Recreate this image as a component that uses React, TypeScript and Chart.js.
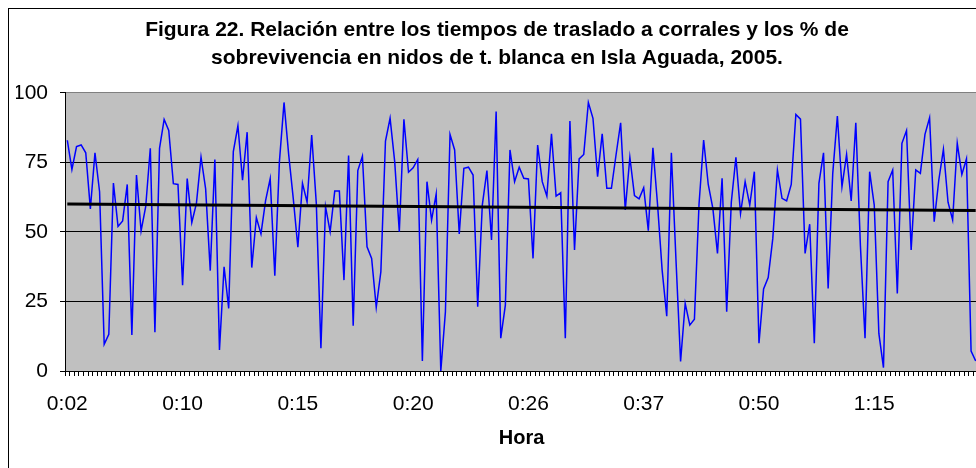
import { useEffect, useRef } from 'react';
import { Chart, registerables } from 'chart.js';

Chart.register(...registerables);

const FONT = '"Liberation Sans", Arial, sans-serif';

const titleLines = [
  'Figura 22. Relación entre los tiempos de traslado a corrales y los % de',
  'sobrevivencia en nidos de t. blanca en Isla Aguada, 2005.',
];
const xAxisTitle = 'Hora';

// Tick labels shown on the category axis and the category index where each sits
const hourLabels = ['0:02', '0:10', '0:15', '0:20', '0:26', '0:37', '0:50', '1:15'];
const hourLabelIndex = [0, 25, 50, 75, 100, 125, 150, 175];

const yTicks = [0, 25, 50, 75, 100];

// % de sobrevivencia por nido (orden de las categorías)
const survival = [
  83, 72.5, 80.7, 81.3, 78.5, 58.3, 78.5, 64.5, 9.6, 13.2, 67.6, 52, 54, 67.1, 13, 70.5, 50.4, 59.1, 80.1, 13.9, 80.1, 90.5, 86.5, 67.4,
  67.1, 30.9, 69.2, 53.4, 60.3, 76.9, 65.5, 36.1, 76.1, 7.6, 37.5, 22.5, 78.9, 88.2, 68.6, 85.9, 37.2, 55.2, 49.3, 61.3, 69.2, 34.3, 75.3, 96.6,
  78, 62.1, 44.5, 67.5, 60.7, 84.9, 60.3, 8.2, 59.1, 50.1, 64.7, 64.7, 32.7, 77.5, 16.3, 72.1, 77.3, 44.7, 40.5, 22.9, 35.7, 82.7, 90.9, 75.3, 50.1,
  90.5, 71.5, 73.1, 76.1, 3.6, 68.1, 54.3, 63.7, 0, 21.3, 85.1, 79.5, 49.3, 72.9, 73.3, 70.5, 23.1, 59.7, 72.1, 47.1, 93.3, 11.8, 23.7, 79.5, 68.1,
  73.3, 69.3, 69.1, 40.5, 81.3, 68.1, 62.9, 85.3, 62.9, 64.1, 11.8, 89.9, 43.5, 76.3, 77.9, 96.6, 90.9, 69.9, 85.3, 65.7, 65.7, 77.7, 89.3, 57.9, 76.9,
  63.1, 61.9, 65.9, 50.5, 80.3, 60, 36.3, 19.7, 78.5, 40, 3.4, 24.3, 16.5, 18.6, 60, 83.1, 67.1, 58.5, 42.3, 69.3, 21.3, 60.7, 76.9, 56.7, 68.1,
  59.7, 71.7, 10, 29.5, 33.6, 47.7, 72.3, 62.1, 61.2, 67.1, 92.3, 90.6, 42.3, 52.8, 10, 67.5, 78.5, 29.7, 71.1, 91.7, 66.3, 77.9, 61.2, 89.3, 45,
  11.8, 71.7, 59.7, 13.5, 1.2, 68.1, 72.3, 27.9, 81.9, 86.5, 43.5, 72.3, 71.1, 85.1, 91.1, 53.7, 68.7, 79.7, 60.7, 54.3, 81.9, 70.7, 76.3, 7.2, 3.6,
];

function linearFit(vals: number[]) {
  const n = vals.length;
  let sx = 0, sy = 0, sxx = 0, sxy = 0;
  vals.forEach((y, x) => { sx += x; sy += y; sxx += x * x; sxy += x * y; });
  const b = (n * sxy - sx * sy) / (n * sxx - sx * sx);
  const a = (sy - b * sx) / n;
  return { a, b };
}

const plotBg = {
  id: 'plotBg',
  beforeDraw(chart: any) {
    const { ctx, chartArea: a } = chart;
    ctx.save();
    ctx.fillStyle = '#C0C0C0';
    ctx.fillRect(a.left, a.top, a.right - a.left, a.bottom - a.top);
    ctx.restore();
  },
};

export default function App() {
  const ref = useRef<HTMLCanvasElement>(null);

  useEffect(() => {
    const n = survival.length;
    const fit = linearFit(survival);
    const labelMap = new Map<number, string>(hourLabelIndex.map((i, k) => [i, hourLabels[k]]));

    const chart = new Chart(ref.current as HTMLCanvasElement, {
      type: 'line',
      data: {
        datasets: [
          {
            data: survival.map((y, x) => ({ x, y })),
            borderColor: '#0000FF',
            borderWidth: 1.5,
            pointRadius: 0,
            tension: 0,
            order: 2,
          },
          {
            data: [
              { x: 0, y: fit.a },
              { x: n - 1, y: fit.a + fit.b * (n - 1) },
            ],
            borderColor: '#000000',
            borderWidth: 3,
            pointRadius: 0,
            order: 1,
          },
        ],
      },
      plugins: [plotBg],
      options: {
        responsive: false,
        animation: false,
        layout: { padding: { left: 16, right: 2, top: 0, bottom: 0 } },
        plugins: {
          legend: { display: false },
          tooltip: { enabled: false },
          title: {
            display: true,
            text: titleLines,
            color: '#000',
            font: { family: FONT, size: 21, weight: 'bold', lineHeight: 1.333 },
            padding: { top: 16, bottom: 21 },
          },
        },
        scales: {
          x: {
            type: 'linear',
            min: -0.5,
            max: n - 0.5,
            afterBuildTicks: (s: any) => {
              const t: { value: number }[] = [];
              for (let i = 0; i <= n; i++) t.push({ value: i - 0.5 });
              hourLabelIndex.forEach((i) => t.push({ value: i }));
              s.ticks = t;
            },
            afterFit: (s: any) => { s.height = 97; },
            ticks: {
              autoSkip: false,
              maxRotation: 0,
              minRotation: 0,
              padding: 16,
              color: '#000',
              font: { family: FONT, size: 21 },
              callback: (v: any) => labelMap.get(Number(v)) ?? '',
            },
            grid: {
              drawOnChartArea: false,
              drawTicks: true,
              tickLength: 5,
              lineWidth: 1,
              tickColor: (c: any) => (c.tick && labelMap.has(c.tick.value) ? 'rgba(0,0,0,0)' : '#000'),
            },
            border: { display: true, color: '#000', width: 1 },
            title: {
              display: true,
              text: xAxisTitle,
              color: '#000',
              font: { family: FONT, size: 20, weight: 'bold' },
              padding: { top: 0, bottom: 18 },
            },
          },
          y: {
            min: 0,
            max: 100,
            afterBuildTicks: (s: any) => { s.ticks = yTicks.map((v) => ({ value: v })); },
            afterFit: (s: any) => { s.width = 49; },
            ticks: { color: '#000', font: { family: FONT, size: 21 }, padding: 12 },
            grid: {
              color: (c: any) => (c.tick && c.tick.value === 100 ? '#808080' : '#000'),
              tickColor: '#000',
              tickLength: 5,
              drawTicks: true,
              lineWidth: 1,
            },
            border: { display: true, color: '#000', width: 1 },
          },
        },
      } as any,
    });
    return () => chart.destroy();
  }, []);

  return (
    <div style={{ position: 'fixed', left: 0, top: 0, width: 976, height: 468, overflow: 'hidden', background: '#fff' }}>
      <div
        style={{
          position: 'absolute', left: 8, top: 8, width: 2000, height: 2000,
          borderLeft: '1px solid #000', borderTop: '1px solid #000',
        }}
      />
      <canvas ref={ref} width={980} height={468} style={{ position: 'absolute', left: 0, top: 0, display: 'block' }} />
    </div>
  );
}
